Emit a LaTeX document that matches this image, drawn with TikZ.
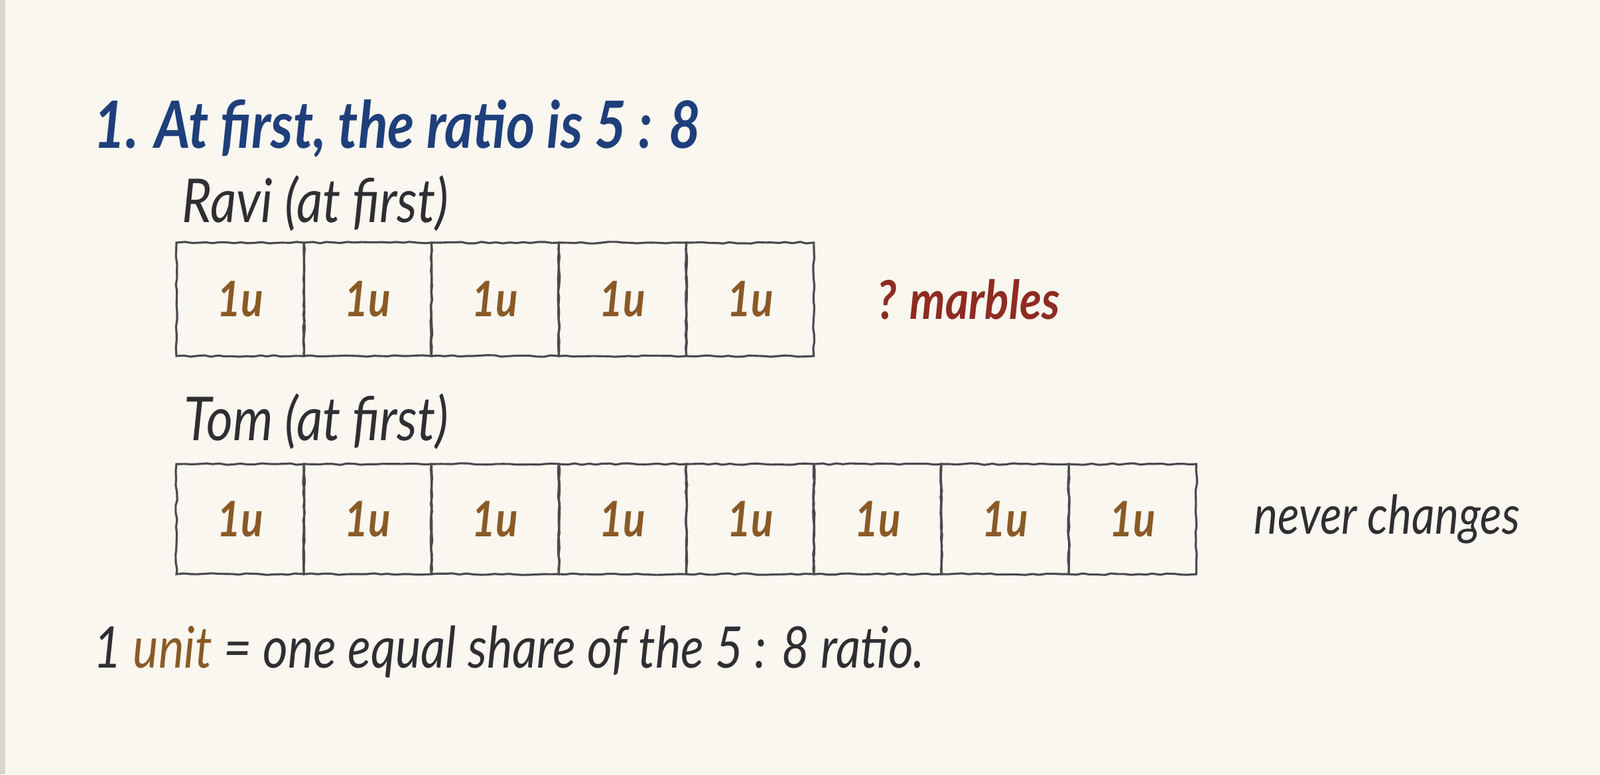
\documentclass[tikz,border=0pt]{standalone}
\usepackage{fontspec}
\setmainfont{Lato}[FakeStretch=0.84]
\usetikzlibrary{calc}
\usetikzlibrary{positioning}
\usetikzlibrary{decorations.pathmorphing}

\definecolor{paper}{HTML}{F9F7EF}
\definecolor{margin}{HTML}{D9D5CA}
\definecolor{ink}{HTML}{2E2E33}
\definecolor{headblue}{HTML}{1E3F7B}
\definecolor{unitbrown}{HTML}{8A5A26}
\definecolor{askred}{HTML}{8E2B22}
\definecolor{pencil}{HTML}{4A4A50}

\begin{document}
\begin{tikzpicture}[cell/.style={rectangle, draw=pencil, line width=0.9pt, minimum width=1.92cm,
        inner sep=0pt, font=\fontsize{21}{25}\selectfont\itshape\bfseries, text=unitbrown,
        decorate, decoration={random steps, segment length=3pt, amplitude=0.35pt}},
    note/.style={inner sep=0pt, font=\fontsize{24.6}{30}\selectfont\itshape, text=ink}]
            \fill[paper] (0, 0) rectangle (24.12, -11.68);
            \fill[margin] (0, 0) rectangle (0.08, -11.68);
            \useasboundingbox (0, 0) rectangle (24.12, -11.68);

            \node[note, anchor=base west, text=headblue, font=\fontsize{28}{34}\selectfont\itshape\bfseries]
                (title) at (1.41, -2.23) {1. At first, the ratio is 5 : 8};

            % Ravi
            \node[note, anchor=base west, font=\fontsize{26}{31}\selectfont\itshape] (ravi) at (2.74, -3.35) {Ravi (at first)};
            \coordinate (R) at (3.62, -4.515);
            \foreach \i in {1, ..., 5}
            {
                \node[cell, minimum height=1.71cm] (r\i) at (R) {1u};
                \coordinate (R) at ($(R) + (1.922, 0)$);
            }
            \node[note, right=0.93cm of r5, text=askred, font=\fontsize{23}{28}\selectfont\itshape\bfseries]
                (marbles) {? marbles};

            % Tom
            \node[note, anchor=base west, font=\fontsize{26}{31}\selectfont\itshape] (tom) at (2.77, -6.64) {Tom (at first)};
            \coordinate (T) at (3.62, -7.83);
            \foreach \i in {1, ..., 8}
            {
                \node[cell, minimum height=1.66cm] (t\i) at (T) {1u};
                \coordinate (T) at ($(T) + (1.922, 0)$);
            }
            \node[note, right=0.85cm of t8, font=\fontsize{23}{28}\selectfont\itshape] (never) {never changes};

            \node[note, anchor=base west] (unit) at (1.41, -10.07)
                {1 \textcolor{unitbrown}{unit} = one equal share of the 5 : 8 ratio.};
        \end{tikzpicture}
\end{document}
